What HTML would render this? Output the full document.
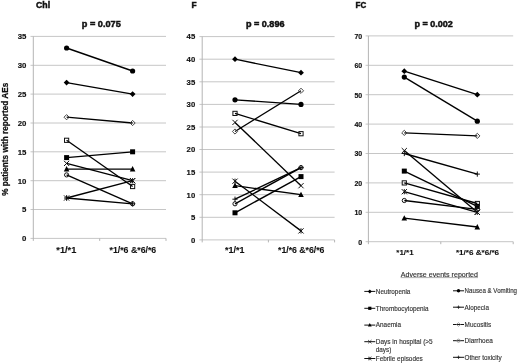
<!DOCTYPE html>
<html><head><meta charset="utf-8"><style>
html,body{margin:0;padding:0;background:#fff;width:520px;height:363px;overflow:hidden}
svg{display:block;will-change:transform;font-family:"Liberation Sans",sans-serif}
</style></head><body>
<svg width="520" height="363" viewBox="0 0 520 363">
<rect width="520" height="363" fill="#fff"/>
<line x1="30.5" y1="238.4" x2="166.0" y2="238.4" stroke="#c6c6c6" stroke-width="1"/>
<text x="26.4" y="241.3" font-size="8" font-weight="bold" fill="#111" stroke="#111" stroke-width="0.15" text-anchor="end" textLength="4.35" lengthAdjust="spacingAndGlyphs">0</text>
<line x1="30.5" y1="209.5" x2="166.0" y2="209.5" stroke="#c6c6c6" stroke-width="1"/>
<text x="26.4" y="212.44500000000002" font-size="8" font-weight="bold" fill="#111" stroke="#111" stroke-width="0.15" text-anchor="end" textLength="4.35" lengthAdjust="spacingAndGlyphs">5</text>
<line x1="30.5" y1="180.7" x2="166.0" y2="180.7" stroke="#c6c6c6" stroke-width="1"/>
<text x="26.4" y="183.59" font-size="8" font-weight="bold" fill="#111" stroke="#111" stroke-width="0.15" text-anchor="end" textLength="8.7" lengthAdjust="spacingAndGlyphs">10</text>
<line x1="30.5" y1="151.8" x2="166.0" y2="151.8" stroke="#c6c6c6" stroke-width="1"/>
<text x="26.4" y="154.735" font-size="8" font-weight="bold" fill="#111" stroke="#111" stroke-width="0.15" text-anchor="end" textLength="8.7" lengthAdjust="spacingAndGlyphs">15</text>
<line x1="30.5" y1="123.0" x2="166.0" y2="123.0" stroke="#c6c6c6" stroke-width="1"/>
<text x="26.4" y="125.88000000000001" font-size="8" font-weight="bold" fill="#111" stroke="#111" stroke-width="0.15" text-anchor="end" textLength="8.7" lengthAdjust="spacingAndGlyphs">20</text>
<line x1="30.5" y1="94.1" x2="166.0" y2="94.1" stroke="#c6c6c6" stroke-width="1"/>
<text x="26.4" y="97.025" font-size="8" font-weight="bold" fill="#111" stroke="#111" stroke-width="0.15" text-anchor="end" textLength="8.7" lengthAdjust="spacingAndGlyphs">25</text>
<line x1="30.5" y1="65.3" x2="166.0" y2="65.3" stroke="#c6c6c6" stroke-width="1"/>
<text x="26.4" y="68.17000000000002" font-size="8" font-weight="bold" fill="#111" stroke="#111" stroke-width="0.15" text-anchor="end" textLength="8.7" lengthAdjust="spacingAndGlyphs">30</text>
<line x1="30.5" y1="36.4" x2="166.0" y2="36.4" stroke="#c6c6c6" stroke-width="1"/>
<text x="26.4" y="39.31500000000002" font-size="8" font-weight="bold" fill="#111" stroke="#111" stroke-width="0.15" text-anchor="end" textLength="8.7" lengthAdjust="spacingAndGlyphs">35</text>
<line x1="33.3" y1="36.4" x2="33.3" y2="240.9" stroke="#b4b4b4" stroke-width="1"/>
<line x1="99.7" y1="238.4" x2="99.7" y2="240.9" stroke="#b4b4b4" stroke-width="1"/>
<line x1="166.0" y1="238.4" x2="166.0" y2="240.9" stroke="#b4b4b4" stroke-width="1"/>
<text x="36" y="7.5" font-size="8.3" font-weight="bold" fill="#111" stroke="#111" stroke-width="0.45" textLength="14.1" lengthAdjust="spacingAndGlyphs">Chl</text>
<text x="81.8" y="27.2" font-size="8.6" font-weight="bold" fill="#111" stroke="#111" stroke-width="0.45" textLength="39" lengthAdjust="spacingAndGlyphs">p = 0.075</text>
<text x="56.3" y="252.6" font-size="8.4" font-weight="bold" fill="#111" stroke="#111" stroke-width="0.1" textLength="20" lengthAdjust="spacingAndGlyphs">*1/*1</text>
<text x="109.5" y="252.6" font-size="8.4" font-weight="bold" fill="#111" stroke="#111" stroke-width="0.1" textLength="46.7" lengthAdjust="spacingAndGlyphs">*1/*6 &amp;*6/*6</text>
<line x1="66.6" y1="48.0" x2="132.6" y2="71.0" stroke="#000" stroke-width="1.35"/>
<line x1="66.6" y1="82.6" x2="132.6" y2="94.1" stroke="#000" stroke-width="1.35"/>
<line x1="66.6" y1="117.2" x2="132.6" y2="123.0" stroke="#000" stroke-width="1.35"/>
<line x1="66.6" y1="140.3" x2="132.6" y2="186.5" stroke="#000" stroke-width="1.35"/>
<line x1="66.6" y1="157.6" x2="132.6" y2="151.8" stroke="#000" stroke-width="1.35"/>
<line x1="66.6" y1="163.4" x2="132.6" y2="180.7" stroke="#000" stroke-width="1.35"/>
<line x1="66.6" y1="169.1" x2="132.6" y2="169.1" stroke="#000" stroke-width="1.35"/>
<line x1="66.6" y1="174.9" x2="132.6" y2="203.8" stroke="#000" stroke-width="1.35"/>
<line x1="66.6" y1="198.0" x2="132.6" y2="180.7" stroke="#000" stroke-width="1.35"/>
<line x1="66.6" y1="198.0" x2="132.6" y2="203.8" stroke="#000" stroke-width="1.35"/>
<circle cx="66.6" cy="48.0" r="2.6" fill="#000"/>
<circle cx="132.6" cy="71.0" r="2.6" fill="#000"/>
<path d="M66.6 79.7L69.5 82.6L66.6 85.5L63.7 82.6Z" fill="#000"/>
<path d="M132.6 91.2L135.5 94.1L132.6 97.0L129.7 94.1Z" fill="#000"/>
<path d="M66.6 114.6L69.2 117.2L66.6 119.8L64.0 117.2Z" fill="none" stroke="#333" stroke-width="0.9"/>
<path d="M132.6 120.4L135.2 123.0L132.6 125.6L130.0 123.0Z" fill="none" stroke="#333" stroke-width="0.9"/>
<rect x="64.5" y="138.2" width="4.2" height="4.2" fill="none" stroke="#111" stroke-width="1"/>
<rect x="130.5" y="184.4" width="4.2" height="4.2" fill="none" stroke="#111" stroke-width="1"/>
<rect x="64.1" y="155.1" width="5.0" height="5.0" fill="#000"/>
<rect x="130.1" y="149.3" width="5.0" height="5.0" fill="#000"/>
<path d="M64.0 160.8L69.2 166.0M69.2 160.8L64.0 166.0" stroke="#111" stroke-width="1"/>
<path d="M130.0 178.1L135.2 183.3M135.2 178.1L130.0 183.3" stroke="#111" stroke-width="1"/>
<path d="M66.6 166.1L69.4 171.5L63.8 171.5Z" fill="#000"/>
<path d="M132.6 166.1L135.4 171.5L129.8 171.5Z" fill="#000"/>
<circle cx="66.6" cy="174.9" r="2.1" fill="none" stroke="#111" stroke-width="1"/>
<circle cx="132.6" cy="203.8" r="2.1" fill="none" stroke="#111" stroke-width="1"/>
<path d="M64.0 195.4L69.2 200.6M69.2 195.4L64.0 200.6M66.6 195.4L66.6 200.6" stroke="#111" stroke-width="1"/>
<path d="M130.0 178.1L135.2 183.3M135.2 178.1L130.0 183.3M132.6 178.1L132.6 183.3" stroke="#111" stroke-width="1"/>
<path d="M64.0 198.0L69.2 198.0M66.6 195.4L66.6 200.6" stroke="#111" stroke-width="1"/>
<path d="M130.0 203.8L135.2 203.8M132.6 201.2L132.6 206.4" stroke="#111" stroke-width="1"/>
<line x1="199.4" y1="239.9" x2="334.6" y2="239.9" stroke="#c6c6c6" stroke-width="1"/>
<text x="195.2" y="242.8" font-size="7.8" font-weight="bold" fill="#111" stroke="#111" stroke-width="0.15" text-anchor="end" textLength="4.3" lengthAdjust="spacingAndGlyphs">0</text>
<line x1="199.4" y1="217.3" x2="334.6" y2="217.3" stroke="#c6c6c6" stroke-width="1"/>
<text x="195.2" y="220.21" font-size="7.8" font-weight="bold" fill="#111" stroke="#111" stroke-width="0.15" text-anchor="end" textLength="4.3" lengthAdjust="spacingAndGlyphs">5</text>
<line x1="199.4" y1="194.7" x2="334.6" y2="194.7" stroke="#c6c6c6" stroke-width="1"/>
<text x="195.2" y="197.62" font-size="7.8" font-weight="bold" fill="#111" stroke="#111" stroke-width="0.15" text-anchor="end" textLength="8.6" lengthAdjust="spacingAndGlyphs">10</text>
<line x1="199.4" y1="172.1" x2="334.6" y2="172.1" stroke="#c6c6c6" stroke-width="1"/>
<text x="195.2" y="175.03" font-size="7.8" font-weight="bold" fill="#111" stroke="#111" stroke-width="0.15" text-anchor="end" textLength="8.6" lengthAdjust="spacingAndGlyphs">15</text>
<line x1="199.4" y1="149.5" x2="334.6" y2="149.5" stroke="#c6c6c6" stroke-width="1"/>
<text x="195.2" y="152.44000000000003" font-size="7.8" font-weight="bold" fill="#111" stroke="#111" stroke-width="0.15" text-anchor="end" textLength="8.6" lengthAdjust="spacingAndGlyphs">20</text>
<line x1="199.4" y1="127.0" x2="334.6" y2="127.0" stroke="#c6c6c6" stroke-width="1"/>
<text x="195.2" y="129.85000000000002" font-size="7.8" font-weight="bold" fill="#111" stroke="#111" stroke-width="0.15" text-anchor="end" textLength="8.6" lengthAdjust="spacingAndGlyphs">25</text>
<line x1="199.4" y1="104.4" x2="334.6" y2="104.4" stroke="#c6c6c6" stroke-width="1"/>
<text x="195.2" y="107.26000000000002" font-size="7.8" font-weight="bold" fill="#111" stroke="#111" stroke-width="0.15" text-anchor="end" textLength="8.6" lengthAdjust="spacingAndGlyphs">30</text>
<line x1="199.4" y1="81.8" x2="334.6" y2="81.8" stroke="#c6c6c6" stroke-width="1"/>
<text x="195.2" y="84.67000000000002" font-size="7.8" font-weight="bold" fill="#111" stroke="#111" stroke-width="0.15" text-anchor="end" textLength="8.6" lengthAdjust="spacingAndGlyphs">35</text>
<line x1="199.4" y1="59.2" x2="334.6" y2="59.2" stroke="#c6c6c6" stroke-width="1"/>
<text x="195.2" y="62.080000000000005" font-size="7.8" font-weight="bold" fill="#111" stroke="#111" stroke-width="0.15" text-anchor="end" textLength="8.6" lengthAdjust="spacingAndGlyphs">40</text>
<line x1="199.4" y1="36.6" x2="334.6" y2="36.6" stroke="#c6c6c6" stroke-width="1"/>
<text x="195.2" y="39.49" font-size="7.8" font-weight="bold" fill="#111" stroke="#111" stroke-width="0.15" text-anchor="end" textLength="8.6" lengthAdjust="spacingAndGlyphs">45</text>
<line x1="202.2" y1="36.6" x2="202.2" y2="242.4" stroke="#b4b4b4" stroke-width="1"/>
<line x1="268.4" y1="239.9" x2="268.4" y2="242.4" stroke="#b4b4b4" stroke-width="1"/>
<line x1="334.6" y1="239.9" x2="334.6" y2="242.4" stroke="#b4b4b4" stroke-width="1"/>
<text x="191.5" y="7.5" font-size="8.3" font-weight="bold" fill="#111" stroke="#111" stroke-width="0.45" textLength="5.1" lengthAdjust="spacingAndGlyphs">F</text>
<text x="245.9" y="27.2" font-size="8.6" font-weight="bold" fill="#111" stroke="#111" stroke-width="0.45" textLength="38.6" lengthAdjust="spacingAndGlyphs">p = 0.896</text>
<text x="225" y="252.8" font-size="8.4" font-weight="bold" fill="#111" stroke="#111" stroke-width="0.1" textLength="19.4" lengthAdjust="spacingAndGlyphs">*1/*1</text>
<text x="278" y="252.8" font-size="8.4" font-weight="bold" fill="#111" stroke="#111" stroke-width="0.1" textLength="46.4" lengthAdjust="spacingAndGlyphs">*1/*6 &amp;*6/*6</text>
<line x1="235.0" y1="59.2" x2="301.0" y2="72.7" stroke="#000" stroke-width="1.35"/>
<line x1="235.0" y1="99.8" x2="301.0" y2="104.4" stroke="#000" stroke-width="1.35"/>
<line x1="235.0" y1="131.5" x2="301.0" y2="90.8" stroke="#000" stroke-width="1.35"/>
<line x1="235.0" y1="113.4" x2="301.0" y2="133.7" stroke="#000" stroke-width="1.35"/>
<line x1="235.0" y1="122.4" x2="301.0" y2="185.7" stroke="#000" stroke-width="1.35"/>
<line x1="235.0" y1="181.2" x2="301.0" y2="230.9" stroke="#000" stroke-width="1.35"/>
<line x1="235.0" y1="185.7" x2="301.0" y2="194.7" stroke="#000" stroke-width="1.35"/>
<line x1="235.0" y1="199.2" x2="301.0" y2="167.6" stroke="#000" stroke-width="1.35"/>
<line x1="235.0" y1="203.8" x2="301.0" y2="167.6" stroke="#000" stroke-width="1.35"/>
<line x1="235.0" y1="212.8" x2="301.0" y2="176.6" stroke="#000" stroke-width="1.35"/>
<path d="M235.0 56.3L237.9 59.2L235.0 62.1L232.1 59.2Z" fill="#000"/>
<path d="M301.0 69.8L303.9 72.7L301.0 75.6L298.1 72.7Z" fill="#000"/>
<circle cx="235.0" cy="99.8" r="2.6" fill="#000"/>
<circle cx="301.0" cy="104.4" r="2.6" fill="#000"/>
<path d="M235.0 128.9L237.6 131.5L235.0 134.1L232.4 131.5Z" fill="none" stroke="#333" stroke-width="0.9"/>
<path d="M301.0 88.2L303.6 90.8L301.0 93.4L298.4 90.8Z" fill="none" stroke="#333" stroke-width="0.9"/>
<rect x="232.9" y="111.3" width="4.2" height="4.2" fill="none" stroke="#111" stroke-width="1"/>
<rect x="298.9" y="131.6" width="4.2" height="4.2" fill="none" stroke="#111" stroke-width="1"/>
<path d="M232.4 119.8L237.6 125.0M237.6 119.8L232.4 125.0" stroke="#111" stroke-width="1"/>
<path d="M298.4 183.1L303.6 188.3M303.6 183.1L298.4 188.3" stroke="#111" stroke-width="1"/>
<path d="M232.4 178.6L237.6 183.8M237.6 178.6L232.4 183.8M235.0 178.6L235.0 183.8" stroke="#111" stroke-width="1"/>
<path d="M298.4 228.3L303.6 233.5M303.6 228.3L298.4 233.5M301.0 228.3L301.0 233.5" stroke="#111" stroke-width="1"/>
<path d="M235.0 182.7L237.8 188.1L232.2 188.1Z" fill="#000"/>
<path d="M301.0 191.7L303.8 197.1L298.2 197.1Z" fill="#000"/>
<path d="M232.4 199.2L237.6 199.2M235.0 196.6L235.0 201.8" stroke="#111" stroke-width="1"/>
<path d="M298.4 167.6L303.6 167.6M301.0 165.0L301.0 170.2" stroke="#111" stroke-width="1"/>
<circle cx="235.0" cy="203.8" r="2.1" fill="none" stroke="#111" stroke-width="1"/>
<circle cx="301.0" cy="167.6" r="2.1" fill="none" stroke="#111" stroke-width="1"/>
<rect x="232.5" y="210.3" width="5.0" height="5.0" fill="#000"/>
<rect x="298.5" y="174.1" width="5.0" height="5.0" fill="#000"/>
<line x1="365.6" y1="241.7" x2="513.2" y2="241.7" stroke="#c6c6c6" stroke-width="1"/>
<text x="362.2" y="244.6" font-size="7.2" font-weight="bold" fill="#111" stroke="#111" stroke-width="0.15" text-anchor="end" textLength="3.9" lengthAdjust="spacingAndGlyphs">0</text>
<line x1="365.6" y1="212.3" x2="513.2" y2="212.3" stroke="#c6c6c6" stroke-width="1"/>
<text x="362.2" y="215.2" font-size="7.2" font-weight="bold" fill="#111" stroke="#111" stroke-width="0.15" text-anchor="end" textLength="7.8" lengthAdjust="spacingAndGlyphs">10</text>
<line x1="365.6" y1="182.9" x2="513.2" y2="182.9" stroke="#c6c6c6" stroke-width="1"/>
<text x="362.2" y="185.79999999999998" font-size="7.2" font-weight="bold" fill="#111" stroke="#111" stroke-width="0.15" text-anchor="end" textLength="7.8" lengthAdjust="spacingAndGlyphs">20</text>
<line x1="365.6" y1="153.5" x2="513.2" y2="153.5" stroke="#c6c6c6" stroke-width="1"/>
<text x="362.2" y="156.4" font-size="7.2" font-weight="bold" fill="#111" stroke="#111" stroke-width="0.15" text-anchor="end" textLength="7.8" lengthAdjust="spacingAndGlyphs">30</text>
<line x1="365.6" y1="124.1" x2="513.2" y2="124.1" stroke="#c6c6c6" stroke-width="1"/>
<text x="362.2" y="127.0" font-size="7.2" font-weight="bold" fill="#111" stroke="#111" stroke-width="0.15" text-anchor="end" textLength="7.8" lengthAdjust="spacingAndGlyphs">40</text>
<line x1="365.6" y1="94.7" x2="513.2" y2="94.7" stroke="#c6c6c6" stroke-width="1"/>
<text x="362.2" y="97.6" font-size="7.2" font-weight="bold" fill="#111" stroke="#111" stroke-width="0.15" text-anchor="end" textLength="7.8" lengthAdjust="spacingAndGlyphs">50</text>
<line x1="365.6" y1="65.3" x2="513.2" y2="65.3" stroke="#c6c6c6" stroke-width="1"/>
<text x="362.2" y="68.19999999999999" font-size="7.2" font-weight="bold" fill="#111" stroke="#111" stroke-width="0.15" text-anchor="end" textLength="7.8" lengthAdjust="spacingAndGlyphs">60</text>
<line x1="365.6" y1="35.9" x2="513.2" y2="35.9" stroke="#c6c6c6" stroke-width="1"/>
<text x="362.2" y="38.800000000000004" font-size="7.2" font-weight="bold" fill="#111" stroke="#111" stroke-width="0.15" text-anchor="end" textLength="7.8" lengthAdjust="spacingAndGlyphs">70</text>
<line x1="368.4" y1="35.9" x2="368.4" y2="244.2" stroke="#b4b4b4" stroke-width="1"/>
<line x1="440.8" y1="241.7" x2="440.8" y2="244.2" stroke="#b4b4b4" stroke-width="1"/>
<line x1="513.2" y1="241.7" x2="513.2" y2="244.2" stroke="#b4b4b4" stroke-width="1"/>
<text x="355.6" y="7.5" font-size="8.3" font-weight="bold" fill="#111" stroke="#111" stroke-width="0.45" textLength="10.7" lengthAdjust="spacingAndGlyphs">FC</text>
<text x="414.5" y="27.2" font-size="8.6" font-weight="bold" fill="#111" stroke="#111" stroke-width="0.45" textLength="38.3" lengthAdjust="spacingAndGlyphs">p = 0.002</text>
<text x="396.3" y="255.0" font-size="7.9" font-weight="bold" fill="#111" stroke="#111" stroke-width="0.1" textLength="17.3" lengthAdjust="spacingAndGlyphs">*1/*1</text>
<text x="455.9" y="255.0" font-size="7.9" font-weight="bold" fill="#111" stroke="#111" stroke-width="0.1" textLength="43.2" lengthAdjust="spacingAndGlyphs">*1/*6 &amp;*6/*6</text>
<line x1="404.3" y1="71.2" x2="477.3" y2="94.7" stroke="#000" stroke-width="1.35"/>
<line x1="404.3" y1="77.1" x2="477.3" y2="121.2" stroke="#000" stroke-width="1.35"/>
<line x1="404.3" y1="132.9" x2="477.3" y2="135.9" stroke="#000" stroke-width="1.35"/>
<line x1="404.3" y1="150.6" x2="477.3" y2="212.3" stroke="#000" stroke-width="1.35"/>
<line x1="404.3" y1="153.5" x2="477.3" y2="174.1" stroke="#000" stroke-width="1.35"/>
<line x1="404.3" y1="171.1" x2="477.3" y2="206.4" stroke="#000" stroke-width="1.35"/>
<line x1="404.3" y1="182.9" x2="477.3" y2="203.5" stroke="#000" stroke-width="1.35"/>
<line x1="404.3" y1="191.7" x2="477.3" y2="212.3" stroke="#000" stroke-width="1.35"/>
<line x1="404.3" y1="200.5" x2="477.3" y2="209.4" stroke="#000" stroke-width="1.35"/>
<line x1="404.3" y1="218.2" x2="477.3" y2="227.0" stroke="#000" stroke-width="1.35"/>
<path d="M404.3 68.3L407.2 71.2L404.3 74.1L401.4 71.2Z" fill="#000"/>
<path d="M477.3 91.8L480.2 94.7L477.3 97.6L474.4 94.7Z" fill="#000"/>
<circle cx="404.3" cy="77.1" r="2.6" fill="#000"/>
<circle cx="477.3" cy="121.2" r="2.6" fill="#000"/>
<path d="M404.3 130.3L406.9 132.9L404.3 135.5L401.7 132.9Z" fill="none" stroke="#333" stroke-width="0.9"/>
<path d="M477.3 133.3L479.9 135.9L477.3 138.5L474.7 135.9Z" fill="none" stroke="#333" stroke-width="0.9"/>
<path d="M401.7 148.0L406.9 153.2M406.9 148.0L401.7 153.2" stroke="#111" stroke-width="1"/>
<path d="M474.7 209.7L479.9 214.9M479.9 209.7L474.7 214.9" stroke="#111" stroke-width="1"/>
<path d="M401.7 153.5L406.9 153.5M404.3 150.9L404.3 156.1" stroke="#111" stroke-width="1"/>
<path d="M474.7 174.1L479.9 174.1M477.3 171.5L477.3 176.7" stroke="#111" stroke-width="1"/>
<rect x="401.8" y="168.6" width="5.0" height="5.0" fill="#000"/>
<rect x="474.8" y="203.9" width="5.0" height="5.0" fill="#000"/>
<rect x="402.2" y="180.8" width="4.2" height="4.2" fill="none" stroke="#111" stroke-width="1"/>
<rect x="475.2" y="201.4" width="4.2" height="4.2" fill="none" stroke="#111" stroke-width="1"/>
<path d="M401.7 189.1L406.9 194.3M406.9 189.1L401.7 194.3M404.3 189.1L404.3 194.3" stroke="#111" stroke-width="1"/>
<path d="M474.7 209.7L479.9 214.9M479.9 209.7L474.7 214.9M477.3 209.7L477.3 214.9" stroke="#111" stroke-width="1"/>
<circle cx="404.3" cy="200.5" r="2.1" fill="none" stroke="#111" stroke-width="1"/>
<circle cx="477.3" cy="209.4" r="2.1" fill="none" stroke="#111" stroke-width="1"/>
<path d="M404.3 215.2L407.1 220.6L401.5 220.6Z" fill="#000"/>
<path d="M477.3 224.0L480.1 229.4L474.5 229.4Z" fill="#000"/>
<text transform="translate(7.5,195.8) rotate(-90)" font-size="8.7" font-weight="bold" fill="#111" stroke="#111" stroke-width="0.25" textLength="113" lengthAdjust="spacingAndGlyphs">% patients with reported AEs</text>
<text x="400.8" y="276.8" font-size="7.3" font-weight="normal" fill="#333" stroke="#333" stroke-width="0.15" textLength="77.2" lengthAdjust="spacingAndGlyphs">Adverse events reported</text>
<line x1="400.6" y1="277.6" x2="478" y2="277.6" stroke="#777" stroke-width="0.6"/>
<line x1="364.3" y1="291.4" x2="375.3" y2="291.4" stroke="#111" stroke-width="1"/>
<path d="M369.8 289.4L371.8 291.4L369.8 293.4L367.8 291.4Z" fill="#000"/>
<text x="375.8" y="293.7" font-size="7.0" font-weight="normal" fill="#333" stroke="#333" stroke-width="0.15" textLength="34.6" lengthAdjust="spacingAndGlyphs">Neutropenia</text>
<line x1="364.3" y1="308.3" x2="375.3" y2="308.3" stroke="#111" stroke-width="1"/>
<rect x="368.2" y="306.7" width="3.2" height="3.2" fill="#000"/>
<text x="375.8" y="310.6" font-size="7.0" font-weight="normal" fill="#333" stroke="#333" stroke-width="0.15" textLength="52.7" lengthAdjust="spacingAndGlyphs">Thrombocytopenia</text>
<line x1="364.3" y1="325.1" x2="375.3" y2="325.1" stroke="#111" stroke-width="1"/>
<path d="M369.8 323.0L371.7 326.6L367.9 326.6Z" fill="#000"/>
<text x="375.8" y="327.40000000000003" font-size="7.0" font-weight="normal" fill="#333" stroke="#333" stroke-width="0.15" textLength="25.2" lengthAdjust="spacingAndGlyphs">Anaemia</text>
<line x1="364.3" y1="341.7" x2="375.3" y2="341.7" stroke="#111" stroke-width="1"/>
<path d="M368.1 340.0L371.5 343.4M371.5 340.0L368.1 343.4" stroke="#111" stroke-width="0.7"/>
<text x="375.8" y="344.0" font-size="7.0" font-weight="normal" fill="#333" stroke="#333" stroke-width="0.15" textLength="56.9" lengthAdjust="spacingAndGlyphs">Days in hospital (&gt;5</text>
<line x1="364.3" y1="358.5" x2="375.3" y2="358.5" stroke="#111" stroke-width="1"/>
<path d="M368.1 356.8L371.5 360.2M371.5 356.8L368.1 360.2M369.8 356.8L369.8 360.2" stroke="#111" stroke-width="0.7"/>
<text x="375.8" y="360.8" font-size="7.0" font-weight="normal" fill="#333" stroke="#333" stroke-width="0.15" textLength="46.9" lengthAdjust="spacingAndGlyphs">Febrile episodes</text>
<text x="375.8" y="352.2" font-size="7.0" font-weight="normal" fill="#333" stroke="#333" stroke-width="0.15" textLength="15.5" lengthAdjust="spacingAndGlyphs">days)</text>
<line x1="453" y1="290.8" x2="464" y2="290.8" stroke="#111" stroke-width="1"/>
<circle cx="458.5" cy="290.8" r="1.7" fill="#000"/>
<text x="464.6" y="293.1" font-size="7.0" font-weight="normal" fill="#333" stroke="#333" stroke-width="0.15" textLength="52.4" lengthAdjust="spacingAndGlyphs">Nausea &amp; Vomiting</text>
<line x1="453" y1="307.2" x2="464" y2="307.2" stroke="#111" stroke-width="1"/>
<path d="M456.8 307.2L460.2 307.2M458.5 305.5L458.5 308.9" stroke="#111" stroke-width="0.7"/>
<text x="464.6" y="309.5" font-size="7.0" font-weight="normal" fill="#333" stroke="#333" stroke-width="0.15" textLength="24.4" lengthAdjust="spacingAndGlyphs">Alopecia</text>
<line x1="453" y1="324.5" x2="464" y2="324.5" stroke="#111" stroke-width="1"/>
<path d="M458.5 322.6L460.4 324.5L458.5 326.4L456.6 324.5Z" fill="none" stroke="#888" stroke-width="0.8"/>
<text x="464.6" y="326.8" font-size="7.0" font-weight="normal" fill="#333" stroke="#333" stroke-width="0.15" textLength="26.6" lengthAdjust="spacingAndGlyphs">Mucositis</text>
<line x1="453" y1="340.7" x2="464" y2="340.7" stroke="#111" stroke-width="1"/>
<circle cx="458.5" cy="340.7" r="1.6" fill="none" stroke="#888" stroke-width="0.8"/>
<text x="464.6" y="343.0" font-size="7.0" font-weight="normal" fill="#333" stroke="#333" stroke-width="0.15" textLength="28.2" lengthAdjust="spacingAndGlyphs">Diarrhoea</text>
<line x1="453" y1="357.3" x2="464" y2="357.3" stroke="#111" stroke-width="1"/>
<path d="M456.8 357.3L460.2 357.3M458.5 355.6L458.5 359.0" stroke="#111" stroke-width="0.7"/>
<text x="464.6" y="359.6" font-size="7.0" font-weight="normal" fill="#333" stroke="#333" stroke-width="0.15" textLength="37" lengthAdjust="spacingAndGlyphs">Other toxicity</text>
</svg>
</body></html>
